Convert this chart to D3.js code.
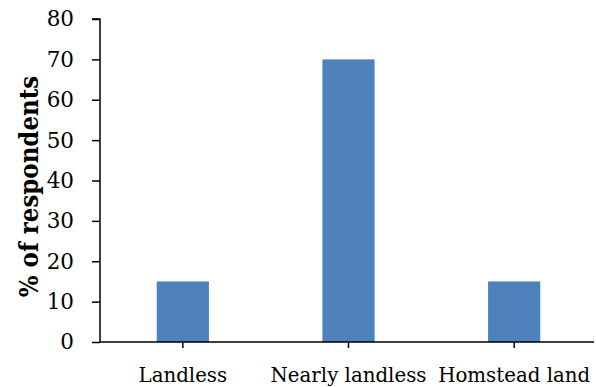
<!DOCTYPE html>
<html>
<head>
<meta charset="utf-8">
<script src="https://cdn.jsdelivr.net/npm/d3@7"></script>
<style>
  html, body { margin: 0; padding: 0; background: #fff; }
  svg { display: block; }
  text { font-family: "DejaVu Serif", "Liberation Serif", serif; fill: #000; }
</style>
</head>
<body>
<script>
// Land ownership of respondents
const categories = ["Landless", "Nearly landless", "Homstead land"];
const percentValues = [15, 70, 15];
const yTicks = [0, 10, 20, 30, 40, 50, 60, 70, 80];
const yTitle = "% of respondents";

const width = 596, height = 387;
const margin = { top: 19, right: -1, bottom: 45, left: 100 };

const svg = d3.select("body").append("svg")
  .attr("width", width)
  .attr("height", height);

const x = d3.scaleBand()
  .domain(categories)
  .range([margin.left, width - margin.right])
  .paddingInner(0.685)
  .paddingOuter(0.3425);

const y = d3.scaleLinear()
  .domain([0, 80])
  .range([height - margin.bottom, margin.top]);

// bars
svg.append("g").selectAll("rect")
  .data(categories)
  .join("rect")
  .attr("x", d => x(d))
  .attr("y", (d, i) => y(percentValues[i]))
  .attr("width", x.bandwidth())
  .attr("height", (d, i) => y(0) - y(percentValues[i]))
  .attr("fill", "#4F81BD");

// y axis
const yAxis = svg.append("g")
  .attr("transform", `translate(${margin.left},0)`)
  .call(d3.axisLeft(y).tickValues(yTicks).tickSize(8).tickPadding(18));
yAxis.selectAll("path, line").attr("stroke", "#000").attr("stroke-width", 1.5);
yAxis.select(".domain").attr("d", `M-8,${y(80)}H0V${y(0)}`);
yAxis.selectAll("text")
  .style("font-family", "'DejaVu Serif', serif")
  .style("font-size", "21.5px");

// x axis with ticks at category centres
const xAxis = svg.append("g")
  .attr("transform", `translate(0,${y(0)})`)
  .call(d3.axisBottom(x).tickSize(6));
xAxis.selectAll("path, line").attr("stroke", "#000").attr("stroke-width", 1.5);
xAxis.select(".domain").attr("d", `M${margin.left},0H${width - 2}`);
xAxis.selectAll("text")
  .attr("y", 39.5)
  .attr("dy", null)
  .style("font-family", "'DejaVu Serif', serif")
  .style("font-size", "19.8px");

// y axis title
svg.append("text")
  .attr("transform", `translate(38,${(y(0) + y(80)) / 2 + 6}) rotate(-90)`)
  .attr("text-anchor", "middle")
  .style("font-family", "'DejaVu Serif Condensed', 'DejaVu Serif', serif")
  .style("font-stretch", "condensed")
  .style("font-size", "25.5px")
  .style("font-weight", "bold")
  .text(yTitle);
</script>
</body>
</html>
